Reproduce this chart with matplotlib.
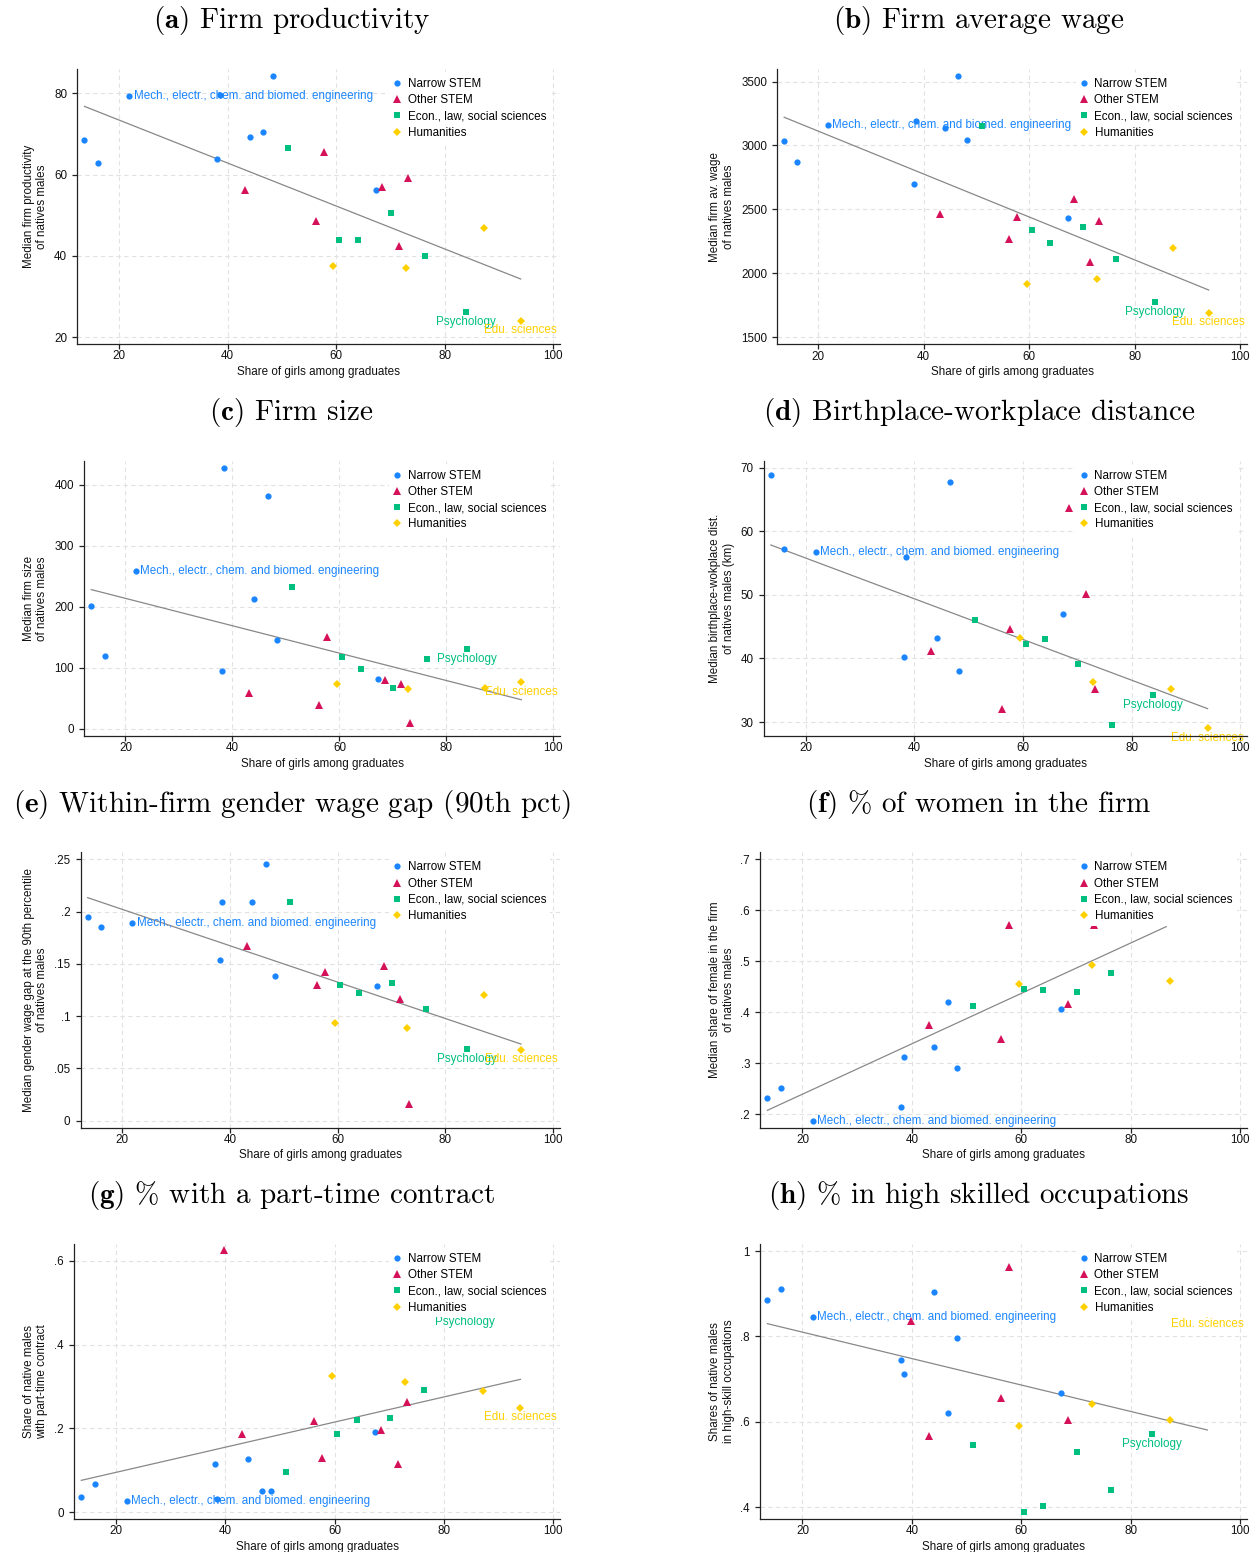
import numpy as np
import matplotlib
matplotlib.use("Agg")
import matplotlib.pyplot as plt
from matplotlib.lines import Line2D

nan = np.nan

# ---------------- data ----------------
# share of girls among graduates, by field group
narrow_x = [13.6, 16.1, 21.9, 38.1, 38.5, 44.1, 46.6, 48.3, 67.3]
other_x = [39.8, 43.1, 56.2, 57.7, 68.5, 71.6, 73.2]
econ_x = [51.1, 60.5, 64.0, 70.1, 76.4, 83.9]
hum_x = [59.5, 72.9, 87.2, 94.0]

group_names = ["Narrow STEM", "Other STEM", "Econ., law, social sciences", "Humanities"]
label_mech = "Mech., electr., chem. and biomed. engineering"
label_psy = "Psychology"
label_edu = "Edu. sciences"

# (a) firm productivity
a_narrow = [68.6, 62.8, 79.4, 63.8, 79.6, 69.2, 70.6, 84.3, 56.2]
a_other = [nan, 56.1, 48.7, 65.5, 57.0, 42.4, 59.1]
a_econ = [66.5, 43.8, 43.8, 50.5, 39.9, 26.1]
a_hum = [37.6, 36.9, 46.8, 24.0]
a_fit = [76.8, 34.3]

# (b) firm average wage
b_narrow = [3033, 2871, 3163, 2696, 3192, 3140, 3547, 3046, 2435]
b_other = [nan, 2461, 2265, 2443, 2584, 2085, 2409]
b_econ = [3155, 2335, 2234, 2359, 2108, 1772]
b_hum = [1918, 1957, 2200, 1690]
b_fit = [3221, 1868]

# (c) firm size
c_narrow = [200.5, 119, 258.5, 94, 428, 213, 381, 145, 81]
c_other = [nan, 58, 39, 150, 80, 72.7, 10]
c_econ = [233, 118, 98.4, 66, 115, 130]
c_hum = [73.2, 64.5, 66, 76.5]
c_fit = [228, 47.5]

# (d) birthplace-workplace distance
d_narrow = [68.85, 57.26, 56.74, 40.2, 56.0, 43.16, 67.7, 38.1, 47.0]
d_other = [nan, 41.2, 32.0, 44.7, 63.7, 50.1, 35.2]
d_econ = [46.1, 42.2, 43.0, 39.1, 29.5, 34.2]
d_hum = [43.2, 36.3, 35.2, 29.0]
d_fit = [57.84, 32.1]

# (e) within-firm gender wage gap (90th pct)
e_narrow = [.1945, .185, .189, .1537, .209, .2089, .2459, .1384, .1288]
e_other = [nan, .1668, .1295, .1425, .1476, .116, .0163]
e_econ = [.2089, .1295, .1218, .1314, .1065, .0683]
e_hum = [.0934, .0883, .1205, .068]
e_fit = [.2133, .0733]

# (f) % of women in the firm
f_narrow = [.2314, .2516, .1876, .2137, .3118, .332, .4203, .2915, .4065]
f_other = [nan, .3745, .347, .5706, .417, nan, .572]
f_econ = [.4118, .4464, .4431, .4392, .4765, nan]
f_hum = [.4556, .4922, .4614, nan]
f_fit = [.2078, .568]

# (g) % with a part-time contract
g_narrow = [.0367, .0661, .0263, .1155, .0303, .1259, .051, .051, .1904]
g_other = [.6263, .1857, .2175, .129, .196, .1155, .263]
g_econ = [.0948, .1857, .2199, .2239, .2908, .478]
g_hum = [.3259, .31, .29, .2494]
g_fit = [.0757, .3171]

# (h) % in high skilled occupations
h_narrow = [.886, .912, .845, .745, .712, .903, .620, .796, .668]
h_other = [.835, .567, .657, .962, .604, nan, nan]
h_econ = [.547, .388, .404, .530, .440, .571]
h_hum = [.590, .642, .605, .852]
h_fit = [.8299, .581]

fit_x_full = [13.6, 94.0]
fit_x_f = [13.6, 86.5]

titles = [
    "(a)|Firm productivity", "(b)|Firm average wage",
    "(c)|Firm size", "(d)|Birthplace-workplace distance",
    "(e)|Within-firm gender wage gap (90th pct)", "(f)|% of women in the firm",
    "(g)|% with a part-time contract", "(h)|% in high skilled occupations",
]
ylabels = [
    "Median firm productivity\nof natives males",
    "Median firm av. wage\nof natives males",
    "Median firm size\nof natives males",
    "Median birthplace-wokplace dist.\nof natives males (km)",
    "Median gender wage gap at the 90th percentile\nof natives males",
    "Median share of female in the firm\nof natives males",
    "Share of native males\nwith part-time contract",
    "Shares of native males\nin high-skill occupations",
]
xlabel = "Share of girls among graduates"
xticks = [20, 40, 60, 80, 100]

yticks = [
    [20, 40, 60, 80],
    [1500, 2000, 2500, 3000, 3500],
    [0, 100, 200, 300, 400],
    [30, 40, 50, 60, 70],
    [0, .05, .1, .15, .2, .25],
    [.2, .3, .4, .5, .6, .7],
    [0, .2, .4, .6],
    [.4, .6, .8, 1],
]
ytick_labels = [
    ["20", "40", "60", "80"],
    ["1500", "2000", "2500", "3000", "3500"],
    ["0", "100", "200", "300", "400"],
    ["30", "40", "50", "60", "70"],
    ["0", ".05", ".1", ".15", ".2", ".25"],
    [".2", ".3", ".4", ".5", ".6", ".7"],
    ["0", ".2", ".4", ".6"],
    [".4", ".6", ".8", "1"],
]
ylims = [
    (18.3, 86.0), (1443, 3599), (-12, 439.3), (27.8, 71.1),
    (-0.0067, 0.2567), (0.1737, 0.7137), (-0.0167, 0.6406), (0.3726, 1.0164),
]
xlim = (12.3, 101.25)

panels = [
    (a_narrow, a_other, a_econ, a_hum, a_fit, fit_x_full),
    (b_narrow, b_other, b_econ, b_hum, b_fit, fit_x_full),
    (c_narrow, c_other, c_econ, c_hum, c_fit, fit_x_full),
    (d_narrow, d_other, d_econ, d_hum, d_fit, fit_x_full),
    (e_narrow, e_other, e_econ, e_hum, e_fit, fit_x_full),
    (f_narrow, f_other, f_econ, f_hum, f_fit, fit_x_f),
    (g_narrow, g_other, g_econ, g_hum, g_fit, fit_x_full),
    (h_narrow, h_other, h_econ, h_hum, h_fit, fit_x_full),
]

# ---------------- style ----------------
W, H = 1256, 1552
plt.rcParams["font.family"] = ["Liberation Sans", "DejaVu Sans"]
plt.rcParams["mathtext.fontset"] = "cm"

colors = ["#1A85FF", "#D41159", "#00BF7F", "#FFD000"]
markers = ["o", "^", "s", "D"]
msizes = [4.5, 5.2, 4.6, 4.1]
FS = 8.4
TS = 21

# axes boxes in pixels: left, right, top, bottom
boxes = [
    (77.4, 560, 69, 344), (777.3, 1247, 69, 344.3),
    (84.3, 560, 460.7, 736), (763.8, 1247, 460.7, 736),
    (80.7, 560, 852.3, 1127.7), (760.3, 1247, 852.3, 1127.7),
    (74.2, 560, 1244, 1519), (760.3, 1247, 1244, 1519),
]
title_cx = [291.7, 979]
ylabel_cx = [35.5, 722]

fig = plt.figure(figsize=(W / 100, H / 100), dpi=100)
fig.patch.set_facecolor("white")

for i, (nar, oth, eco, hum, fit, fitx) in enumerate(panels):
    l, r, t, b = boxes[i]
    wpx, hpx = r - l, b - t
    ax = fig.add_axes([l / W, 1 - b / H, wpx / W, hpx / H])
    ax.set_xlim(*xlim)
    ax.set_ylim(*ylims[i])
    ax.set_axisbelow(True)
    for s in ["top", "right"]:
        ax.spines[s].set_visible(False)
    for s in ["left", "bottom"]:
        ax.spines[s].set_color("#222222")
        ax.spines[s].set_linewidth(0.9)
    ax.set_xticks(xticks)
    ax.set_xticklabels([str(v) for v in xticks])
    ax.set_yticks(yticks[i])
    ax.set_yticklabels(ytick_labels[i])
    ax.tick_params(axis="both", length=3.4, width=0.9, color="#222222",
                   labelsize=FS, labelcolor="#111111")
    ax.tick_params(axis="x", pad=1.2)
    ax.tick_params(axis="y", pad=4.0)
    ax.grid(True, color="#e2e2e2", linestyle=(0, (4, 3)), linewidth=0.8)

    # fitted line
    ax.plot(fitx, fit, color="#888888", lw=0.9, zorder=2)

    series = [(narrow_x, nar), (other_x, oth), (econ_x, eco), (hum_x, hum)]
    for k, (xs, ys) in enumerate(series):
        ax.plot(xs, ys, linestyle="none", marker=markers[k], markersize=msizes[k],
                color=colors[k], markeredgewidth=0, zorder=3)

    # marker labels
    if not np.isnan(nar[2]):
        ax.annotate(label_mech, (narrow_x[2], nar[2]), xytext=(3.2, 0),
                    textcoords="offset points", ha="left", va="center",
                    fontsize=FS, color=colors[0], zorder=2.5)
    if not np.isnan(eco[5]):
        ax.annotate(label_psy, (econ_x[5], eco[5]), xytext=(0, -6.9),
                    textcoords="offset points", ha="center", va="center",
                    fontsize=FS, color=colors[2], zorder=2.5)
    if not np.isnan(hum[3]):
        ax.annotate(label_edu, (hum_x[3], hum[3]), xytext=(0, -6.9),
                    textcoords="offset points", ha="center", va="center",
                    fontsize=FS, color=colors[3], zorder=2.5)

    # legend
    handles = [Line2D([], [], linestyle="none", marker=markers[k], markersize=msizes[k],
                      color=colors[k], markeredgewidth=0) for k in range(4)]
    leg = ax.legend(handles, group_names, loc="upper right",
                    bbox_to_anchor=(1 - 10.5 / wpx, 1 - 5.6 / hpx),
                    bbox_transform=ax.transAxes, borderaxespad=0,
                    frameon=True, fancybox=False, framealpha=1,
                    facecolor="white", edgecolor="none", fontsize=FS,
                    handlelength=0.8, handletextpad=0.5, labelspacing=0.36,
                    borderpad=0.3, numpoints=1)
    leg.set_zorder(10)

    # x label
    ax.set_xlabel(xlabel, fontsize=FS, color="#111111")
    ax.xaxis.set_label_coords(0.5, -27.7 / hpx)
    ax.xaxis.label.set_va("center")

    # y label (two lines)
    col = i % 2
    fig.text(ylabel_cx[col] / W, 1 - (t + b) / 2 / H, ylabels[i], rotation=90,
             ha="center", va="center", multialignment="center",
             fontsize=FS, color="#111111", linespacing=1.15)

    # panel title
    tag, name = titles[i].split("|")
    fig.text(title_cx[col] / W, 1 - (t - 40.7) / H,
             r"$\mathbf{" + tag + "}$ " + name,
             ha="center", va="baseline", family="cmr10", fontsize=TS, color="black")

fig.savefig("out.png", dpi=100, facecolor="white")
